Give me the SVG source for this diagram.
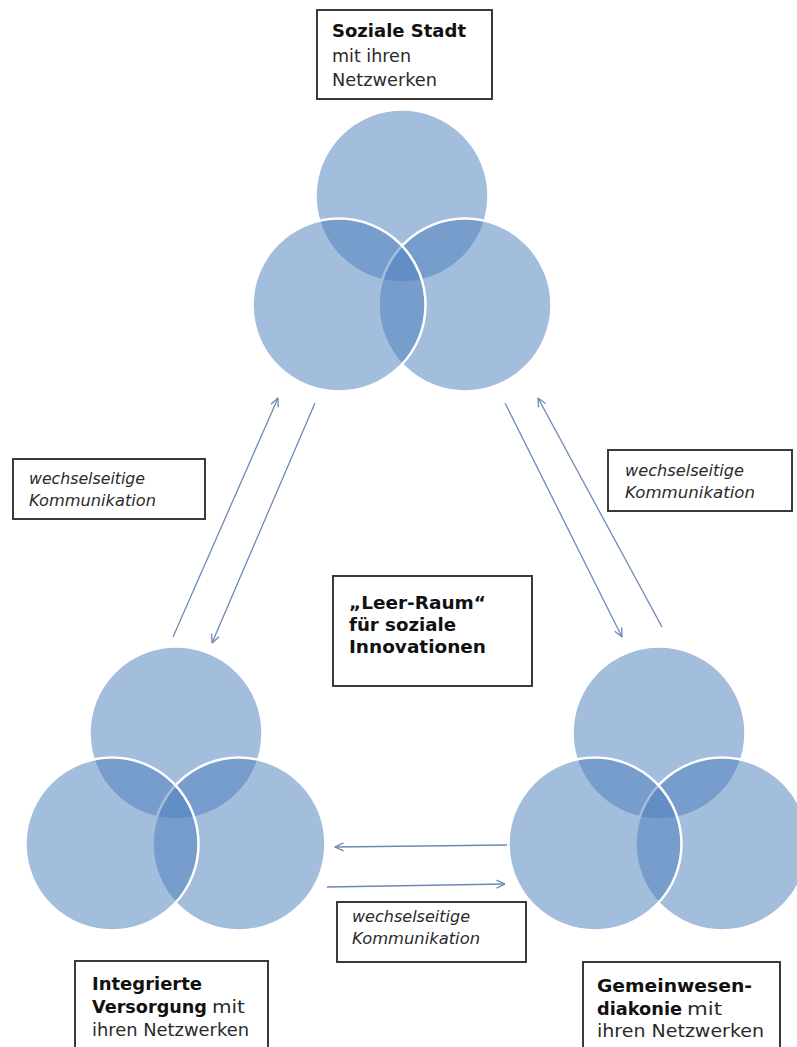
<svg xmlns="http://www.w3.org/2000/svg" width="797" height="1047" viewBox="0 0 797 1047">
  <style>
    .bg { fill: #ffffff; }
    .c { fill: #4f81bd; fill-opacity: 0.52; stroke: #ffffff; stroke-width: 2.5; }
    .box { fill: #ffffff; stroke: #3a3a3a; stroke-width: 2; }
    .t { font-family: "DejaVu Sans", Verdana, sans-serif; font-size: 17.5px; fill: #2a2a2a; }
    .b { font-weight: bold; fill: #111111; }
    .i { font-family: "DejaVu Sans", Verdana, sans-serif; font-size: 15.5px; font-style: italic; fill: #2a2a2a; }
    .arrow { fill: none; stroke: #6f89b6; stroke-width: 1.3; }
  </style>
  <defs>
    <marker id="head" viewBox="0 0 10 10" refX="9.5" refY="5" markerWidth="10" markerHeight="10" markerUnits="userSpaceOnUse" orient="auto">
      <path d="M1,1 L9.5,5 L1,9" fill="none" stroke="#6f89b6" stroke-width="1.3"/>
    </marker>
  </defs>

  <rect class="bg" x="0" y="0" width="797" height="1047"/>

  <!-- three-circle cluster: Soziale Stadt -->
  <g id="cluster-top">
    <circle class="c" cx="402" cy="196" r="86.5"/>
    <circle class="c" cx="465" cy="305" r="86.5"/>
    <circle class="c" cx="339" cy="305" r="86.5"/>
  </g>

  <!-- three-circle cluster: Integrierte Versorgung -->
  <g id="cluster-left">
    <circle class="c" cx="176" cy="733" r="86.5"/>
    <circle class="c" cx="239" cy="844" r="86.5"/>
    <circle class="c" cx="112" cy="844" r="86.5"/>
  </g>

  <!-- three-circle cluster: Gemeinwesendiakonie -->
  <g id="cluster-right">
    <circle class="c" cx="659" cy="733" r="86.5"/>
    <circle class="c" cx="722" cy="844" r="86.5"/>
    <circle class="c" cx="595" cy="844" r="86.5"/>
  </g>

  <!-- connectors -->
  <g id="connectors">
    <line class="arrow" x1="173" y1="637" x2="278" y2="398" marker-end="url(#head)"/>
    <line class="arrow" x1="315" y1="403" x2="212" y2="643" marker-end="url(#head)"/>
    <line class="arrow" x1="505" y1="403" x2="622" y2="637" marker-end="url(#head)"/>
    <line class="arrow" x1="662" y1="627" x2="538" y2="398" marker-end="url(#head)"/>
    <line class="arrow" x1="507" y1="845" x2="335" y2="847" marker-end="url(#head)"/>
    <line class="arrow" x1="327" y1="887" x2="505" y2="884" marker-end="url(#head)"/>
  </g>

  <g id="label-soziale-stadt">
    <rect class="box" x="317" y="10" width="175" height="89"/>
    <text class="t b" x="332" y="37" textLength="134" lengthAdjust="spacingAndGlyphs">Soziale Stadt</text>
    <text class="t" x="332" y="62" textLength="79" lengthAdjust="spacingAndGlyphs">mit ihren</text>
    <text class="t" x="332" y="86" textLength="105" lengthAdjust="spacingAndGlyphs">Netzwerken</text>
  </g>

  <g id="label-leer-raum">
    <rect class="box" x="333" y="576" width="199" height="110"/>
    <text class="t b" x="349" y="609" textLength="137" lengthAdjust="spacingAndGlyphs">„Leer-Raum“</text>
    <text class="t b" x="349" y="631" textLength="107" lengthAdjust="spacingAndGlyphs">für soziale</text>
    <text class="t b" x="349" y="653" textLength="137" lengthAdjust="spacingAndGlyphs">Innovationen</text>
  </g>

  <g id="label-komm-left">
    <rect class="box" x="13" y="459" width="192" height="60"/>
    <text class="i" x="29" y="484" textLength="116" lengthAdjust="spacingAndGlyphs">wechselseitige</text>
    <text class="i" x="29" y="506" textLength="127" lengthAdjust="spacingAndGlyphs">Kommunikation</text>
  </g>

  <g id="label-komm-right">
    <rect class="box" x="608" y="450" width="184" height="61"/>
    <text class="i" x="625" y="476" textLength="119" lengthAdjust="spacingAndGlyphs">wechselseitige</text>
    <text class="i" x="625" y="498" textLength="130" lengthAdjust="spacingAndGlyphs">Kommunikation</text>
  </g>

  <g id="label-komm-bottom">
    <rect class="box" x="337" y="902" width="189" height="60"/>
    <text class="i" x="352" y="922" textLength="118" lengthAdjust="spacingAndGlyphs">wechselseitige</text>
    <text class="i" x="352" y="944" textLength="128" lengthAdjust="spacingAndGlyphs">Kommunikation</text>
  </g>

  <g id="label-integrierte-versorgung">
    <rect class="box" x="75" y="961" width="193" height="100"/>
    <text class="t b" x="92" y="990" textLength="110" lengthAdjust="spacingAndGlyphs">Integrierte</text>
    <text class="t b" x="92" y="1013" textLength="115" lengthAdjust="spacingAndGlyphs">Versorgung</text>
    <text class="t" x="212" y="1013" textLength="33" lengthAdjust="spacingAndGlyphs">mit</text>
    <text class="t" x="92" y="1036" textLength="157" lengthAdjust="spacingAndGlyphs">ihren Netzwerken</text>
  </g>

  <g id="label-gemeinwesendiakonie">
    <rect class="box" x="583" y="962" width="197" height="100"/>
    <text class="t b" x="597" y="992" textLength="155" lengthAdjust="spacingAndGlyphs">Gemeinwesen-</text>
    <text class="t b" x="597" y="1015" textLength="85" lengthAdjust="spacingAndGlyphs">diakonie</text>
    <text class="t" x="687" y="1015" textLength="35" lengthAdjust="spacingAndGlyphs">mit</text>
    <text class="t" x="597" y="1037" textLength="167" lengthAdjust="spacingAndGlyphs">ihren Netzwerken</text>
  </g>
</svg>
